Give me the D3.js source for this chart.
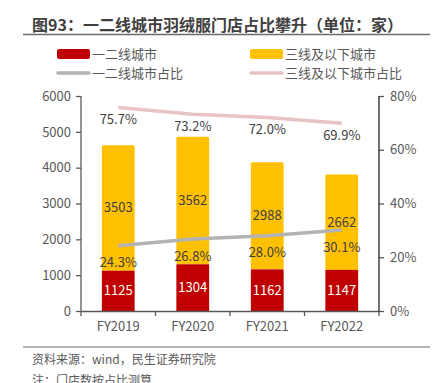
<!DOCTYPE html>
<html>
<head>
<meta charset="utf-8">
<script src="https://cdn.jsdelivr.net/npm/d3@7"></script>
<style>
  body { margin: 0; background: #fff; }
  text { font-family: "Noto Sans CJK SC", "Noto Sans", sans-serif; }
</style>
</head>
<body>
<div id="container"></div>
<script>
// data
var years = ["FY2019", "FY2020", "FY2021", "FY2022"];
var tier12 = [1125, 1304, 1162, 1147];   // 一二线城市
var tier3 = [3503, 3562, 2988, 2662];    // 三线及以下城市
var share12 = [24.3, 26.8, 28.0, 30.1];  // 一二线城市占比 %
var share3 = [75.7, 73.2, 72.0, 69.9];   // 三线及以下城市占比 %
var leftTicks = [0, 1000, 2000, 3000, 4000, 5000, 6000];
var rightTicks = [0, 20, 40, 60, 80];

var width = 442, height = 383;
var red = "#C00000", yellow = "#FFC000", grayLine = "#B3B3B3", pinkLine = "#E8C3C4";
var textColor = "#595959";

var svg = d3.select("#container").append("svg")
    .attr("width", width)
    .attr("height", height);

// title + rule
svg.append("text")
    .attr("x", 32).attr("y", 31)
    .attr("font-size", "16px")
    .attr("font-weight", "bold")
    .attr("fill", "#404040")
    .text("图93：一二线城市羽绒服门店占比攀升（单位：家）");
svg.append("line")
    .attr("x1", 23).attr("x2", 430).attr("y1", 34.5).attr("y2", 34.5)
    .attr("stroke", "#6b6b6b").attr("stroke-width", 1.5);

// legend
var legendItems = [
    { label: "一二线城市", type: "rect", color: red, x: 57, y: 54 },
    { label: "三线及以下城市", type: "rect", color: yellow, x: 250, y: 54 },
    { label: "一二线城市占比", type: "line", color: grayLine, x: 57, y: 73 },
    { label: "三线及以下城市占比", type: "line", color: pinkLine, x: 250, y: 73 }
];
var legend = svg.selectAll(".legend").data(legendItems).enter().append("g")
    .attr("class", "legend")
    .attr("transform", function (d) { return "translate(" + d.x + "," + d.y + ")"; });
legend.filter(function (d) { return d.type == "rect"; }).append("rect")
    .attr("x", 0).attr("y", -5).attr("width", 33).attr("height", 10)
    .attr("rx", 2).attr("fill", function (d) { return d.color; });
legend.filter(function (d) { return d.type == "line"; }).append("line")
    .attr("x1", 1).attr("x2", 32).attr("y1", 0).attr("y2", 0)
    .attr("stroke", function (d) { return d.color; })
    .attr("stroke-width", 3.5).attr("stroke-linecap", "round");
legend.append("text")
    .attr("x", 35).attr("y", 0).attr("dy", "0.35em")
    .attr("font-size", "13px").attr("fill", textColor)
    .text(function (d) { return d.label; });

// scales
var plot = { left: 81, right: 379, top: 96, bottom: 311 };
var x = d3.scaleBand().domain(years).range([plot.left, plot.right]).paddingInner(0.56).paddingOuter(0.28);
var xOuter = d3.scaleBand().domain(years).range([plot.left, plot.right]);
var yLeft = d3.scaleLinear().domain([0, 6000]).range([plot.bottom, plot.top]);
var yRight = d3.scaleLinear().domain([0, 80]).range([plot.bottom, plot.top]);

// bars
var rows = years.map(function (y, i) {
    return { year: y, a: tier12[i], b: tier3[i], s12: share12[i], s3: share3[i] };
});

svg.selectAll(".bar-b").data(rows).enter().append("rect")
    .attr("class", "bar-b")
    .attr("x", function (d) { return x(d.year); })
    .attr("width", x.bandwidth())
    .attr("y", function (d) { return yLeft(d.a + d.b); })
    .attr("height", function (d) { return yLeft(d.a) - yLeft(d.a + d.b); })
    .attr("rx", 1.5)
    .attr("fill", yellow);

svg.selectAll(".bar-a").data(rows).enter().append("rect")
    .attr("class", "bar-a")
    .attr("x", function (d) { return x(d.year); })
    .attr("width", x.bandwidth())
    .attr("y", function (d) { return yLeft(d.a); })
    .attr("height", function (d) { return yLeft(0) - yLeft(d.a); })
    .attr("fill", red);

// bar labels
svg.selectAll(".lab-b").data(rows).enter().append("text")
    .attr("x", function (d) { return x(d.year) + x.bandwidth() / 2; })
    .attr("y", function (d) { return yLeft(d.a + d.b / 2); })
    .attr("dy", "0.35em").attr("text-anchor", "middle")
    .attr("font-size", "13px").attr("fill", "#404040")
    .text(function (d) { return d.b; });

svg.selectAll(".lab-a").data(rows).enter().append("text")
    .attr("x", function (d) { return x(d.year) + x.bandwidth() / 2; })
    .attr("y", function (d) { return yLeft(d.a / 2); })
    .attr("dy", "0.35em").attr("text-anchor", "middle")
    .attr("font-size", "13px").attr("fill", "#fff")
    .text(function (d) { return d.a; });

// axes
var axisColor = "#595959";
var leftAxis = svg.append("g")
    .attr("transform", "translate(" + plot.left + ",0)")
    .call(d3.axisLeft(yLeft).tickValues(leftTicks).tickSize(5).tickPadding(5)
        .tickFormat(d3.format("d")));
var rightAxis = svg.append("g")
    .attr("transform", "translate(" + plot.right + ",0)")
    .call(d3.axisRight(yRight).tickValues(rightTicks).tickSize(5).tickPadding(6)
        .tickFormat(function (d) { return d + "%"; }));
var bottomAxis = svg.append("g")
    .attr("transform", "translate(0," + plot.bottom + ")")
    .call(d3.axisBottom(xOuter).tickSize(0).tickPadding(11));

[leftAxis, rightAxis, bottomAxis].forEach(function (g) {
    g.select(".domain").attr("stroke", axisColor).attr("stroke-width", 1.3);
    g.selectAll(".tick line").attr("stroke", axisColor).attr("stroke-width", 1.3);
    g.selectAll("text").attr("font-size", "13px").attr("fill", textColor)
        .attr("font-family", "\"Noto Sans CJK SC\", sans-serif");
});
leftAxis.select(".domain").remove();
rightAxis.select(".domain").remove();
svg.append("line").attr("x1", plot.left).attr("x2", plot.left)
    .attr("y1", plot.top).attr("y2", plot.bottom + 1)
    .attr("stroke", axisColor).attr("stroke-width", 1.3);
svg.append("line").attr("x1", plot.right).attr("x2", plot.right)
    .attr("y1", plot.top).attr("y2", plot.bottom + 1)
    .attr("stroke", "#262626").attr("stroke-width", 1.3);

// category boundary ticks on x axis
var bounds = years.map(function (y) { return xOuter(y); }).concat([plot.right]);
svg.selectAll(".xtick").data(bounds).enter().append("line")
    .attr("x1", function (d) { return d; }).attr("x2", function (d) { return d; })
    .attr("y1", plot.bottom).attr("y2", plot.bottom + 5)
    .attr("stroke", axisColor).attr("stroke-width", 1.3);

// share lines
var cx = function (d) { return x(d.year) + x.bandwidth() / 2; };
var line3 = d3.line().x(cx).y(function (d) { return yRight(d.s3); });
var line12 = d3.line().x(cx).y(function (d) { return yRight(d.s12); });

svg.append("path").datum(rows).attr("d", line3)
    .attr("fill", "none").attr("stroke", pinkLine).attr("stroke-width", 3.5);
svg.append("path").datum(rows).attr("d", line12)
    .attr("fill", "none").attr("stroke", grayLine).attr("stroke-width", 3.5);

svg.selectAll(".lab-s3").data(rows).enter().append("text")
    .attr("x", cx)
    .attr("y", function (d) { return yRight(d.s3) + 12; })
    .attr("dy", "0.35em").attr("text-anchor", "middle")
    .attr("font-size", "13px").attr("fill", "#404040")
    .text(function (d) { return d.s3.toFixed(1) + "%"; });

svg.selectAll(".lab-s12").data(rows).enter().append("text")
    .attr("x", cx)
    .attr("y", function (d) { return yRight(d.s12) + 17; })
    .attr("dy", "0.35em").attr("text-anchor", "middle")
    .attr("font-size", "13px").attr("fill", "#404040")
    .text(function (d) { return d.s12.toFixed(1) + "%"; });

// footer
svg.append("line")
    .attr("x1", 23).attr("x2", 430).attr("y1", 347).attr("y2", 347)
    .attr("stroke", "#6b6b6b").attr("stroke-width", 1.2);
svg.append("text")
    .attr("x", 32).attr("y", 364)
    .attr("font-size", "12px").attr("fill", textColor)
    .text("资料来源：wind，民生证券研究院");
svg.append("text")
    .attr("x", 32).attr("y", 385)
    .attr("font-size", "12px").attr("fill", textColor)
    .text("注：门店数按占比测算");
</script>
</body>
</html>
